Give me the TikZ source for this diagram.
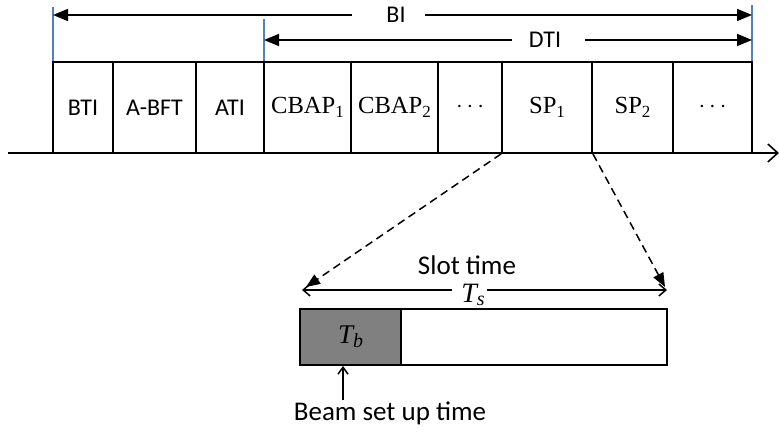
\documentclass[tikz,border=0pt]{standalone}
\usepackage{fontspec}
\setsansfont{Carlito}
\newfontfamily\lsf{Liberation Serif}
\usetikzlibrary{arrows.meta}
\definecolor{markblue}{HTML}{4F81BD}
\definecolor{tbgray}{HTML}{808080}
\newcommand\lowsub[2]{\raisebox{-0.3ex}{\fontsize{#1}{#1}\selectfont #2}}
\begin{document}
\begin{tikzpicture}[x=0.5pt,y=-0.5pt,
  cell/.style={draw, line width=0.9pt, minimum height=45.5pt, inner sep=0pt,
    font=\sffamily\fontsize{12}{14}\selectfont},
  mcell/.style={cell, font=\lsf\fontsize{12.3}{14}\selectfont},
  lbl/.style={inner sep=0pt, font=\sffamily\fontsize{12}{14}\selectfont},
  blbl/.style={inner sep=0pt, font=\sffamily\fontsize{13.5}{16}\selectfont},
  bluemark/.style={draw=markblue, line width=0.6pt},
  span/.style={line width=0.8pt, -{Triangle[length=7.5pt,width=6pt]}},
  dasharrow/.style={line width=0.75pt, dash pattern=on 4pt off 2.5pt, -{Triangle[length=7pt,width=5.5pt]}},
  tsarrow/.style={line width=0.75pt, -{Straight Barb[length=3.5pt,width=6pt]}}
]
\useasboundingbox (0,0) rectangle (779,432);

% blue markers
\coordinate (m0t) at (53,7);   \coordinate (m0b) at (53,62);
\coordinate (m1t) at (264,19); \coordinate (m1b) at (264,62);
\coordinate (m2t) at (752,5);  \coordinate (m2b) at (752,62);
\draw[bluemark] (m0t) -- (m0b);
\draw[bluemark] (m1t) -- (m1b);
\draw[bluemark] (m2t) -- (m2b);

% timeline
\coordinate (tl0) at (8,153);
\coordinate (tl1) at (779,153);
\draw[line width=0.8pt, -{Straight Barb[length=5pt,width=9pt]}] (tl0) -- (tl1);

% cells
\node[cell, minimum width=30pt]   (bti)   at (83,107.5)    {BTI};
\node[cell, minimum width=41.5pt] (abft)  at (154.5,107.5) {A-BFT};
\node[cell, minimum width=34pt]   (ati)   at (230,107.5)   {ATI};
\node[mcell, minimum width=43.5pt] (cbap1) at (307.5,107.5) {CBAP\lowsub{8.5}{1}};
\node[mcell, minimum width=43.5pt] (cbap2) at (394.5,107.5) {CBAP\lowsub{8.5}{2}};
\node[mcell, minimum width=32pt]   (dots1) at (470,107.5)   {$\cdots$};
\node[mcell, minimum width=45pt]   (sp1)   at (547,107.5)   {SP\lowsub{8.5}{1}};
\node[mcell, minimum width=40.5pt] (sp2)   at (632.5,107.5) {SP\lowsub{8.5}{2}};
\node[mcell, minimum width=39.5pt] (dots2) at (712.5,107.5) {$\cdots$};

% BI span
\node[lbl] (bi) at (396,15) {BI};
\coordinate (bil) at (352,15);
\coordinate (bir) at (425,15);
\draw[span] (bil) -- (m0t |- bil);
\draw[span] (bir) -- (m2t |- bir);

% DTI span
\node[lbl] (dti) at (545,40) {DTI};
\coordinate (dtil) at (512,40);
\coordinate (dtir) at (585,40);
\draw[span] (dtil) -- (m1t |- dtil);
\draw[span] (dtir) -- (m2t |- dtir);

% slot zoom
\node[blbl] (slot) at (467,265) {Slot time};
\node[inner sep=0pt, font=\lsf\itshape\fontsize{14}{16}\selectfont] (ts) at (473,295) {T\lowsub{10}{s}};
\coordinate (tsl) at (452,290);
\coordinate (tsr) at (487,290);
\coordinate (tsle) at (302,290);
\coordinate (tsre) at (667,290);
\draw[tsarrow] (tsl) -- (tsle);
\draw[tsarrow] (tsr) -- (tsre);

\coordinate (dl) at (306,287);
\coordinate (dr) at (665,287);
\draw[dasharrow] (sp1.south west) -- (dl);
\draw[dasharrow] (sp1.south east) -- (dr);

% slot box
\node[draw, line width=0.9pt, fill=tbgray, minimum width=50.5pt, minimum height=28pt, inner sep=0pt,
  font=\lsf\itshape\fontsize{13.5}{15}\selectfont] (tb) at (350.5,337) {T\lowsub{10}{b}};
\node[draw, line width=0.9pt, minimum width=133pt, minimum height=28pt, inner sep=0pt] (rest) at (534,337) {};

% beam set up time
\node[blbl] (beam) at (390,413) {Beam set up time};
\coordinate (bup) at (343,400);
\draw[line width=0.75pt, -{Straight Barb[length=3.5pt,width=5pt]}] (bup) -- (bup |- tb.south);
\end{tikzpicture}
\end{document}
